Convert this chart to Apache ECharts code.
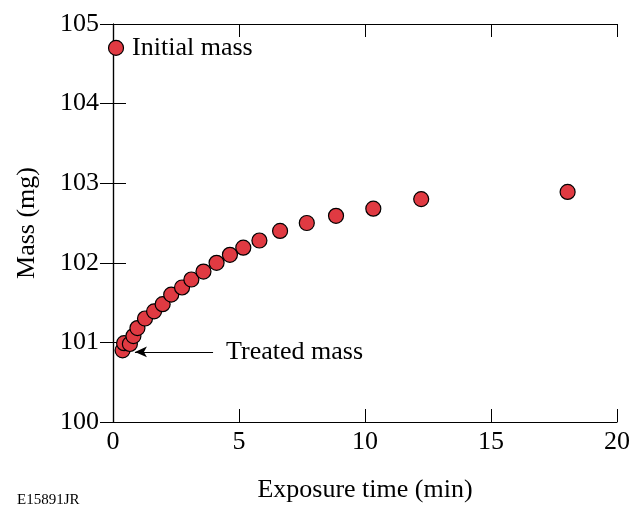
<!DOCTYPE html>
<html><head><meta charset="utf-8">
<script src="https://cdn.jsdelivr.net/npm/echarts@6/dist/echarts.min.js"></script>
<style>html,body{margin:0;padding:0;background:#fff}#c{width:632px;height:506px}</style>
</head><body><div id="c"></div>
<script>
const initialPoint = [0.12, 104.70];
const timeMin = [0.38, 0.44, 0.67, 0.81, 0.97, 1.27, 1.63, 1.97, 2.31, 2.74, 3.11, 3.59, 4.11, 4.64, 5.17, 5.81, 6.63, 7.69, 8.85, 10.33, 12.23, 18.04];
const massMg = [100.90, 100.99, 100.98, 101.08, 101.18, 101.30, 101.39, 101.48, 101.60, 101.69, 101.79, 101.89, 102.00, 102.10, 102.19, 102.28, 102.40, 102.50, 102.59, 102.68, 102.80, 102.89];
const arrowFrom = [3.97, 100.88];
const arrowTo = [0.87, 100.88];
const xTicks = [0, 5, 10, 15, 20];
const yTicks = [100, 101, 102, 103, 104, 105];

const FONT = 'Liberation Serif';
const FS = 26;
const chart = echarts.init(document.getElementById('c'));
const axisCommon = {
  axisLine: {show: true, lineStyle: {color: '#000', width: 1.2}},
  axisTick: {show: true, inside: true, length: 13, lineStyle: {color: '#000', width: 1}},
  splitLine: {show: false}
};
chart.setOption({
  animation: false,
  backgroundColor: '#fff',
  grid: {left: 113, right: 15, top: 24, bottom: 84, containLabel: false, outerBoundsMode: 'none'},
  xAxis: [
    Object.assign({type: 'value', min: 0, max: 20, interval: 5, position: 'bottom',
      name: 'Exposure time (min)', nameLocation: 'middle', nameGap: 55,
      nameTextStyle: {fontFamily: FONT, fontSize: FS, color: '#000'},
      axisLabel: {fontFamily: FONT, fontSize: FS, color: '#000', margin: 7}}, axisCommon),
    Object.assign({type: 'value', min: 0, max: 20, interval: 5, position: 'top',
      axisLabel: {show: false}}, axisCommon)
  ],
  yAxis: [
    Object.assign({type: 'value', min: 100, max: 105, interval: 1, position: 'left',
      name: 'Mass (mg)', nameLocation: 'middle', nameGap: 73,
      nameTextStyle: {fontFamily: FONT, fontSize: FS, color: '#000'},
      axisLabel: {fontFamily: FONT, fontSize: FS, color: '#000', margin: 14}}, axisCommon),
    Object.assign({type: 'value', min: 100, max: 105, interval: 1, position: 'right',
      axisLabel: {show: false}}, axisCommon)
  ],
  series: [
    {
      type: 'scatter', symbol: 'circle', symbolSize: 15,
      itemStyle: {color: '#e03a42', borderColor: '#000', borderWidth: 1.2, opacity: 1},
      data: [{value: initialPoint, label: {show: true, position: 'right', distance: 8,
        padding: [3, 0, 0, 0],
        formatter: 'Initial mass', fontFamily: FONT, fontSize: FS, color: '#000'}}]
        .concat(timeMin.map((t, i) => [t, massMg[i]])),
      markLine: {
        silent: true, symbol: ['none', 'arrow'], symbolSize: [8, 12],
        lineStyle: {color: '#000', width: 1.2, type: 'solid'},
        label: {show: true, position: 'start', formatter: 'Treated mass', fontFamily: FONT, fontSize: FS, color: '#000', distance: 13, padding: [8, 0, 0, 0]},
        data: [[{coord: arrowFrom}, {coord: arrowTo}]]
      }
    }
  ],
  graphic: [{type: 'text', left: 17, top: 493, style: {text: 'E15891JR', font: '15px "Liberation Serif"', fill: '#000'}}]
});
</script></body></html>
